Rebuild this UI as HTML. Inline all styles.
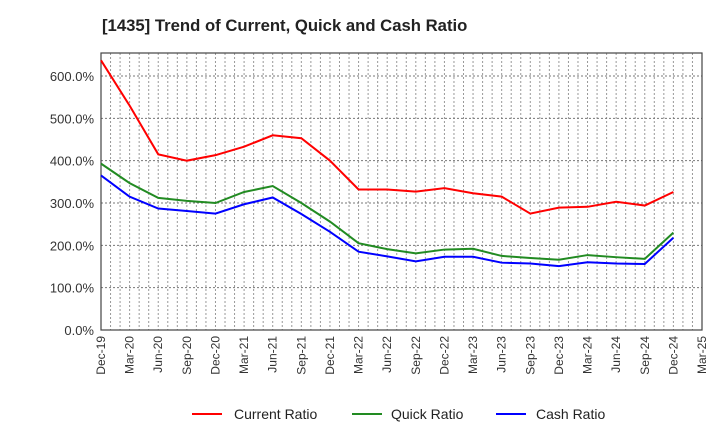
<!DOCTYPE html>
<html><head><meta charset="utf-8"><style>
body{margin:0;background:#fff;font-family:"Liberation Sans",Arial,sans-serif}
</style></head><body>
<svg id="chart" width="720" height="440" xmlns="http://www.w3.org/2000/svg" font-family="Liberation Sans, Arial, sans-serif">
<text x="102" y="31" font-size="16.7" font-weight="bold" fill="#222">[1435]  Trend of Current, Quick and Cash Ratio</text>
<g id="grid"></g><g id="axes"></g><g id="series"></g>
<g font-size="14" fill="#222">
<line x1="192" y1="414" x2="222" y2="414" stroke="#ff0000" stroke-width="2"/><text x="234" y="419">Current Ratio</text>
<line x1="352" y1="414" x2="382" y2="414" stroke="#228b22" stroke-width="2"/><text x="391" y="419">Quick Ratio</text>
<line x1="496" y1="414" x2="526" y2="414" stroke="#0000ff" stroke-width="2"/><text x="536" y="419">Cash Ratio</text>
</g>
</svg>
<script>
const xLabels=["Dec-19","Mar-20","Jun-20","Sep-20","Dec-20","Mar-21","Jun-21","Sep-21","Dec-21","Mar-22","Jun-22","Sep-22","Dec-22","Mar-23","Jun-23","Sep-23","Dec-23","Mar-24","Jun-24","Sep-24","Dec-24","Mar-25"];
const yTicks=[0,100,200,300,400,500,600];
const currentRatio=[637,530,415,400,413,433,460,453,400,332,332,327,335,323,315,275,289,291,303,294,326];
const quickRatio=[393,347,312,305,300,326,340,300,256,205,191,181,190,192,175,170,166,177,172,168,230];
const cashRatio=[365,315,287,281,275,297,313,274,232,185,174,162,173,173,159,157,151,160,157,156,218];
const L=101,R=702,T=53,B=330,ns="http://www.w3.org/2000/svg";
const nQ=xLabels.length-1;
const xs=i=>L+(R-L)*i/nQ;
const ys=v=>B-v*(B-76)/600;
function mk(p,tag,a){const e=document.createElementNS(ns,tag);for(const k in a)e.setAttribute(k,a[k]);p.appendChild(e);return e;}
const grid=document.getElementById('grid'),axes=document.getElementById('axes'),ser=document.getElementById('series');
for(let m=1;m<nQ*3;m++){const x=L+(R-L)*m/(nQ*3);const l=mk(grid,'line',{x1:x,x2:x,y1:T,y2:B,stroke:'#999','stroke-dasharray':'2,2','stroke-width':1});

}
yTicks.forEach(v=>{const y=ys(v);const l=mk(grid,'line',{x1:L,x2:R,y1:y,y2:y,stroke:'#777','stroke-dasharray':'2,2','stroke-width':1});


const t=mk(axes,'text',{x:L-7,y:y+5,'text-anchor':'end','font-size':13,fill:'#333'});t.textContent=v.toFixed(1)+'%';

});
const fr=mk(axes,'rect',{x:L,y:T,width:R-L,height:B-T,fill:'none',stroke:'#444','stroke-width':1.2});


xLabels.forEach((s,i)=>{const x=xs(i);const t=mk(axes,'text',{x:x+4,y:B+6,'text-anchor':'end','font-size':12,fill:'#333',transform:`rotate(-90 ${x+4} ${B+6})`});t.textContent=s;

});
[[currentRatio,'#ff0000','current-ratio-line'],[quickRatio,'#228b22','quick-ratio-line'],[cashRatio,'#0000ff','cash-ratio-line']].forEach(([d,c,n])=>{
const p=mk(ser,'polyline',{points:d.map((v,i)=>xs(i)+','+ys(v)).join(' '),fill:'none',stroke:c,'stroke-width':2});

});
</script>
</body></html>
